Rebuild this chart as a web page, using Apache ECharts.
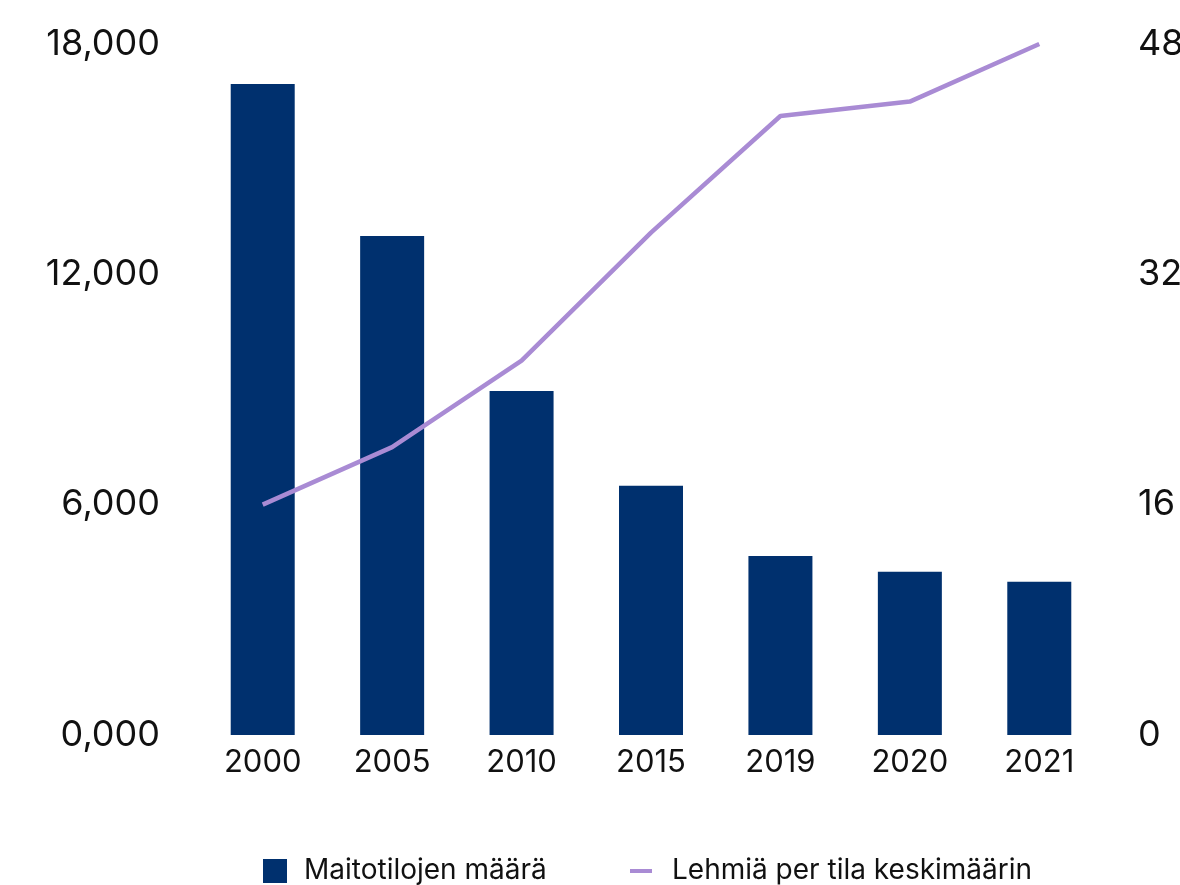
<!doctype html>
<html lang="fi">
 <head>
  <meta charset="UTF-8">
  <style type="text/css">
  html,body{margin:0;padding:0;background:#fff;}
  #chart{width:1180px;height:885px;}
  </style>
  <script src="https://cdn.jsdelivr.net/npm/echarts@6/dist/echarts.min.js"></script>
  <title>Maitotilat</title>
 </head>
 <body>
    <div id="chart"></div>
    <script type="text/javascript">
    // vuodet
    var years = ['2000', '2005', '2010', '2015', '2019', '2020', '2021'];
    // maitotilojen määrä
    var farms = [16960, 13000, 8960, 6490, 4660, 4250, 3990];
    // lehmiä per tila keskimäärin
    var cows = [16, 20, 26, 34.9, 43, 44, 48];

    var font = 'Inter';
    var barColor = '#00306E';
    var lineColor = '#A98BD4';
    var myChart = echarts.init(document.getElementById('chart'));
    var option = {
        animation: false,
        textStyle: { fontFamily: font },
        grid: {
            left: 198,
            right: 76,
            top: 44,
            bottom: 150,
            outerBoundsMode: 'none'
        },
        // kaksi selitettä, jotta merkkien koot voi asettaa erikseen
        legend: [
            {
                left: 263,
                top: 857,
                padding: 0,
                itemWidth: 24,
                itemHeight: 24,
                textStyle: { fontSize: 28, color: '#111', fontFamily: font, padding: [0, 0, 0, 12] },
                data: [{ name: 'Maitotilojen määrä', icon: 'rect' }]
            },
            {
                left: 630,
                top: 857,
                padding: 0,
                itemWidth: 22,
                itemHeight: 4,
                textStyle: { fontSize: 28, color: '#111', fontFamily: font, padding: [0, 0, 0, 15] },
                data: [{ name: 'Lehmiä per tila keskimäärin', icon: 'rect', itemStyle: { color: lineColor } }]
            }
        ],
        xAxis: {
            type: 'category',
            data: years,
            axisLine: { show: false },
            axisTick: { show: false },
            axisLabel: { fontSize: 31, color: '#111', margin: 12 }
        },
        yAxis: [
            {
                type: 'value',
                min: 0,
                max: 18000,
                interval: 6000,
                splitLine: { show: false },
                axisLine: { show: false },
                axisTick: { show: false },
                axisLabel: {
                    fontSize: 36,
                    color: '#111',
                    margin: 38,
                    formatter: function (v) { return (v / 1000) + ',000'; }
                }
            },
            {
                type: 'value',
                min: 0,
                max: 48,
                interval: 16,
                splitLine: { show: false },
                axisLine: { show: false },
                axisTick: { show: false },
                axisLabel: { fontSize: 36, color: '#111', margin: 34 }
            }
        ],
        series: [
            {
                name: 'Maitotilojen määrä',
                type: 'bar',
                data: farms,
                barWidth: 64,
                itemStyle: { color: barColor }
            },
            {
                name: 'Lehmiä per tila keskimäärin',
                type: 'line',
                yAxisIndex: 1,
                data: cows,
                symbol: 'none',
                lineStyle: { color: lineColor, width: 4.5 },
                itemStyle: { color: lineColor }
            }
        ]
    };
    myChart.setOption(option);
    </script>
 </body>
</html>
